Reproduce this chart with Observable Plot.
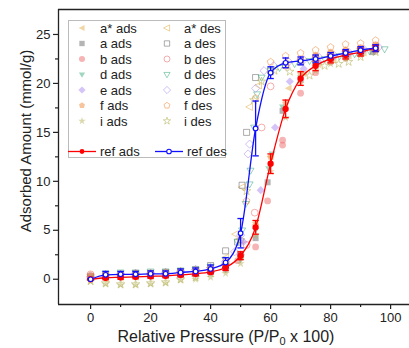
<!DOCTYPE html>
<html><head><meta charset="utf-8">
<script src="https://cdn.jsdelivr.net/npm/d3@7"></script>
<script src="https://cdn.jsdelivr.net/npm/@observablehq/plot@0.6"></script>
<style>
body{margin:0;background:#fff;}
#chart{position:relative;width:409px;height:348px;overflow:hidden;}
svg{font-family:"Liberation Sans",Arial,sans-serif;}
</style>
</head><body><div id="chart"></div>
<script>
// ---------- data ----------
const refAdsX = [0,5,10,15,20,25,30,35,40,45,50,55,60,65,70,75,80,85,90,95];
const refAdsY = [0,0.15,0.2,0.25,0.3,0.35,0.45,0.55,0.75,1.2,2.4,5.3,11.8,17.4,20.5,21.8,22.5,22.9,23.2,23.6];
const refAdsE = [0.05,0.2,0.2,0.2,0.2,0.2,0.2,0.2,0.2,0.3,0.4,0.7,1.0,0.9,0.7,0.5,0.4,0.4,0.4,0.3];

const refDesX = [0,5,10,15,20,25,30,35,40,45,50,55,60,65,70,75,80,85,90,95];
const refDesY = [0,0.45,0.5,0.5,0.55,0.55,0.7,0.8,1.05,1.7,4.7,15.4,21.1,22.1,22.3,22.5,22.8,23.1,23.4,23.6];
const refDesE = [0.05,0.35,0.3,0.3,0.3,0.3,0.35,0.35,0.4,0.5,1.5,2.8,0.6,0.5,0.4,0.4,0.35,0.35,0.35,0.35];

const aStarAdsX = [0,5,10,15,20,25,30,35,40,45,50,55,60,66,71,76,81,86,91,95];
const aStarAdsY = [0.1,0.0,0.1,0.2,0.2,0.3,0.4,0.5,0.7,1.1,2.3,5.8,12.5,19.5,21.0,21.9,22.4,22.8,23.1,23.5];
const aAdsX = [0,5,10,15,20,25,30,35,40,45,50,55,59,64,70,75,80,85,90,94];
const aAdsY = [0.2,0.3,0.3,0.4,0.4,0.5,0.5,0.6,0.8,1.3,2.6,4.2,9.9,17.2,20.4,21.8,22.5,22.9,23.1,23.2];
const bAdsX = [0,5,10,15,20,25,30,35,40,45,49,55,59,64,64,70,75,80,85,90,95];
const bAdsY = [0.3,0.4,0.4,0.4,0.5,0.5,0.6,0.6,0.7,1.0,1.9,3.3,8.0,14.2,13.7,19.0,21.1,22.2,22.6,23.0,23.4];
const dAdsX = [0,5,10,15,20,25,30,35,40,45,50,55,59.4,60.5,64,70,75,80,85,90,95];
const dAdsY = [0.2,0.3,0.3,0.4,0.4,0.5,0.5,0.6,0.7,1.0,2.0,5.0,11.3,12.8,17.6,20.6,21.9,22.6,23.0,23.3,23.6];
const eAdsX = [0,5,10,15,20,25,30,35,40,45,50,51,56.7,61.5,66.4,71,76,81,86,91,95];
const eAdsY = [0.1,0.2,0.2,0.3,0.3,0.4,0.4,0.5,0.7,1.1,2.5,3.8,9.1,15.5,20.2,21.5,22.2,22.7,23.0,23.4,23.6];
const fAdsX = [0,5,10,15,20,25,30,35,40,45,50,55,60,65,70,75,80,85,90,95];
const fAdsY = [0.3,0.3,0.4,0.4,0.5,0.5,0.6,0.6,0.8,1.2,2.2,5.5,12.5,18.0,21.0,22.9,23.2,23.4,23.6,23.9];
const iAdsX = [0,5,10,15,20,25,30,35,40,45,50,55,60,65,70,75,80,85,90,95];
const iAdsY = [-0.2,-0.5,-0.6,-0.6,-0.5,-0.4,-0.1,0.0,0.2,0.6,1.6,4.5,11.0,16.5,20.0,21.3,22.0,22.5,22.9,23.3];

const aStarDesX = [95,90,85,80,75,70,65,60,56,53,50.5,48.3,45,40,35,30,25,20,15,10,5,0];
const aStarDesY = [23.8,23.5,23.2,22.9,22.6,22.3,22.0,21.2,19.8,17.6,9.4,4.6,2.2,1.2,0.9,0.7,0.6,0.5,0.4,0.4,0.3,0.2];
const aDesX = [95,90,85,80,75,70,65,60,55,52,50.5,49,45,40,35,30,25,20,15,10,5,0];
const aDesY = [23.6,23.4,23.1,22.8,22.5,22.2,21.9,21.3,20.6,15.0,9.6,3.8,2.9,1.4,1.0,0.8,0.7,0.6,0.6,0.5,0.4,0.3];
const bDesX = [95,90,85,80,75,70,65,60,57,54.7,52,50,45,40,35,30,25,20,15,10,5,0];
const bDesY = [23.9,23.6,23.3,23.0,22.7,22.4,21.8,19.7,15.5,6.8,3.5,2.5,1.4,1.0,0.8,0.7,0.6,0.6,0.5,0.5,0.4,0.5];
const dDesX = [98,93,88,83,78,73,68,63,60,57,55.5,54.5,53.3,53,51.7,50.5,49,45,40,35,30,25,20,15,10,5];
const dDesY = [23.5,23.3,23.0,22.8,22.5,22.3,22.0,21.6,21.3,20.6,18.9,15.5,11.1,9.7,7.7,5.0,3.8,2.0,1.3,1.0,0.9,0.8,0.8,0.7,0.7,0.6];
const eDesX = [96,91,86,81,76,71,66,61,57.8,55,53,52.5,50,48,45,40,35,30,25,20,15,10,5,0];
const eDesY = [23.7,23.5,23.2,22.9,22.7,22.4,22.2,21.8,21.3,19.5,13.8,12.8,4.5,2.8,1.8,1.2,1.0,0.8,0.7,0.6,0.6,0.5,0.4,0.3];
const fDesX = [95,90,85,80,75,70,65,60,55,52,50,45,40,35,30,25,20,15,10,5,0];
const fDesY = [24.4,24.1,24.0,23.7,23.4,23.1,22.8,22.2,18.5,8.0,4.0,1.8,1.1,0.9,0.8,0.7,0.6,0.6,0.5,0.5,0.4];
const iDesX = [95,90,86,82.7,78,73,66.4,61.3,57,54.4,52,50,45,40,35,30,25,20,15,10,5,0];
const iDesY = [23.2,22.7,22.2,22.0,21.8,20.8,21.2,21.3,20.2,18.3,9.0,4.0,1.5,0.6,0.2,0.0,-0.3,-0.4,-0.5,-0.5,-0.4,-0.2];

const sampleNames = ["a*","a","b","d","e","f","i"];
const sampleColors = ["#e3b04e","#6a6a6a","#f06a6a","#3fae82","#a98af2","#f08a3c","#b5b25a"];

const xTicks = [0,20,40,60,80,100];
const xMinor = [10,30,50,70,90];
const yTicks = [0,5,10,15,20,25];
const yMinor = [2.5,7.5,12.5,17.5,22.5];
const xDomain = [-10.7,106.3];
const yDomain = [-2.58,27.55];

// ---------- symbols ----------
const rad = size => Math.sqrt(size/Math.PI);
const symLeftTri = {draw(c,size){const s=rad(size)*1.15;c.moveTo(-s,0);c.lineTo(s*0.75,-s*0.9);c.lineTo(s*0.75,s*0.9);c.closePath();}};
const symDownTri = {draw(c,size){const s=rad(size)*1.15;c.moveTo(-s*0.9,-s*0.6);c.lineTo(s*0.9,-s*0.6);c.lineTo(0,s*0.95);c.closePath();}};
const symDiamond = {draw(c,size){const s=rad(size)*1.2;c.moveTo(0,-s);c.lineTo(s,0);c.lineTo(0,s);c.lineTo(-s,0);c.closePath();}};
const symPent = {draw(c,size){const s=rad(size)*1.05;for(let k=0;k<5;k++){const a=-Math.PI/2+k*2*Math.PI/5;const px=s*Math.cos(a),py=s*Math.sin(a);k?c.lineTo(px,py):c.moveTo(px,py);}c.closePath();}};
const symStar = {draw(c,size){d3.symbolStar.draw(c,size*0.6);}};
const symCap = {draw(c,size){const s=rad(size);c.moveTo(-s,0);c.lineTo(s,0);}};
const sampleSymbols = [symLeftTri, d3.symbolSquare, d3.symbolCircle, symDownTri, symDiamond, symPent, symStar];

const adsXs = [aStarAdsX,aAdsX,bAdsX,dAdsX,eAdsX,fAdsX,iAdsX];
const adsYs = [aStarAdsY,aAdsY,bAdsY,dAdsY,eAdsY,fAdsY,iAdsY];
const desXs = [aStarDesX,aDesX,bDesX,dDesX,eDesX,fDesX,iDesX];
const desYs = [aStarDesY,aDesY,bDesY,dDesY,eDesY,fDesY,iDesY];

const rows = (xs,ys,es) => xs.map((x,i)=>({x, y:ys[i], e: es ? es[i] : 0}));
const refAds = rows(refAdsX,refAdsY,refAdsE);
const refDes = rows(refDesX,refDesY,refDesE);

const FILL_OP = 0.5, STROKE_OP = 0.55;
const marks = [];
sampleNames.forEach((n,k)=>{
  marks.push(Plot.dot(rows(desXs[k],desYs[k]),{x:"x",y:"y",symbol:sampleSymbols[k],r:3.4,stroke:sampleColors[k],strokeOpacity:STROKE_OP,strokeWidth:1,fill:"none"}));
});
sampleNames.forEach((n,k)=>{
  marks.push(Plot.dot(rows(adsXs[k],adsYs[k]),{x:"x",y:"y",symbol:sampleSymbols[k],r:3.4,fill:sampleColors[k],fillOpacity:FILL_OP,stroke:"none"}));
});
// reference series
const RED="#ff0000", BLUE="#1010ff";
for (const [data,col] of [[refAds,RED],[refDes,BLUE]]) {
  marks.push(Plot.line(data,{x:"x",y:"y",stroke:col,strokeWidth:1.3,curve:"monotone-x"}));
  marks.push(Plot.ruleX(data,{x:"x",y1:d=>d.y-d.e,y2:d=>d.y+d.e,stroke:col,strokeWidth:1.3}));
  marks.push(Plot.dot(data,{x:"x",y:d=>d.y-d.e,symbol:symCap,r:3.2,stroke:col,strokeWidth:1.3}));
  marks.push(Plot.dot(data,{x:"x",y:d=>d.y+d.e,symbol:symCap,r:3.2,stroke:col,strokeWidth:1.3}));
}
marks.push(Plot.dot(refAds,{x:"x",y:"y",r:2.4,fill:RED,stroke:RED}));
marks.push(Plot.dot(refDes,{x:"x",y:"y",r:2.3,fill:"white",stroke:BLUE,strokeWidth:1.1}));

// frame + axes
marks.push(Plot.ruleX([xDomain[0]],{stroke:"#222",strokeWidth:1.3}));
marks.push(Plot.ruleY([yDomain[0]],{stroke:"#222",strokeWidth:1.3}));
marks.push(Plot.ruleY([yDomain[1]],{stroke:"#222",strokeWidth:1.3}));
marks.push(Plot.axisX({ticks:xTicks,tickSize:5,tickPadding:3,fontSize:13,label:null,stroke:"#222",strokeWidth:1.2}));
marks.push(Plot.axisX({ticks:xMinor,tickSize:3,text:null,label:null,stroke:"#222",strokeWidth:1.2}));
marks.push(Plot.axisY({ticks:yTicks,tickSize:5,tickPadding:3,fontSize:13,label:null,stroke:"#222",strokeWidth:1.2}));
marks.push(Plot.axisY({ticks:yMinor,tickSize:3,text:null,label:null,stroke:"#222",strokeWidth:1.2}));

const chart = Plot.plot({
  width:409, height:348,
  marginLeft:58, marginTop:9, marginBottom:44, marginRight:0,
  x:{domain:xDomain}, y:{domain:yDomain},
  style:{fontFamily:'"Liberation Sans",Arial,sans-serif',color:"#222",background:"white"},
  marks
});
document.getElementById("chart").appendChild(chart);

// axis titles and legend
const svg = d3.select(chart);
svg.append("text").attr("transform","translate(25,141) rotate(-90)").attr("text-anchor","middle")
  .attr("dominant-baseline","central").attr("font-size",15).attr("fill","#222").text("Adsorbed Amount (mmol/g)");
const xl = svg.append("text").attr("x",226).attr("y",342).attr("text-anchor","middle").attr("font-size",16).attr("fill","#222");
xl.append("tspan").text("Relative Pressure (P/P");
xl.append("tspan").attr("font-size",11).attr("dy",3).text("0");
xl.append("tspan").attr("dy",-3).text(" x 100)");

const lg = svg.append("g").attr("font-size",13).attr("fill","#222").attr("text-anchor","start");
lg.append("rect").attr("x",68.5).attr("y",20.5).attr("width",157).attr("height",137).attr("fill","white").attr("stroke","#bbb");
const rowY = [28,43.5,59,74.5,90,105.5,121];
sampleNames.forEach((n,k)=>{
  const y=rowY[k];
  const sym = d3.symbol(sampleSymbols[k], Math.PI*3*3)();
  lg.append("path").attr("d",sym).attr("transform",`translate(82,${y})`).attr("fill",sampleColors[k]).attr("fill-opacity",FILL_OP);
  lg.append("text").attr("x",100).attr("y",y).attr("dominant-baseline","central").text(n+" ads");
  lg.append("path").attr("d",sym).attr("transform",`translate(167,${y})`).attr("fill","none").attr("stroke",sampleColors[k]).attr("stroke-opacity",STROKE_OP);
  lg.append("text").attr("x",184).attr("y",y).attr("dominant-baseline","central").text(n+" des");
});
const ry=151.5;
lg.append("line").attr("x1",68).attr("x2",96).attr("y1",ry).attr("y2",ry).attr("stroke",RED).attr("stroke-width",1.3);
lg.append("circle").attr("cx",82).attr("cy",ry).attr("r",2.4).attr("fill",RED);
lg.append("text").attr("x",100).attr("y",ry).attr("dominant-baseline","central").text("ref ads");
lg.append("line").attr("x1",155).attr("x2",183).attr("y1",ry).attr("y2",ry).attr("stroke",BLUE).attr("stroke-width",1.3);
lg.append("circle").attr("cx",169).attr("cy",ry).attr("r",2.3).attr("fill","white").attr("stroke",BLUE).attr("stroke-width",1.1);
lg.append("text").attr("x",187).attr("y",ry).attr("dominant-baseline","central").text("ref des");
</script>
</body></html>
